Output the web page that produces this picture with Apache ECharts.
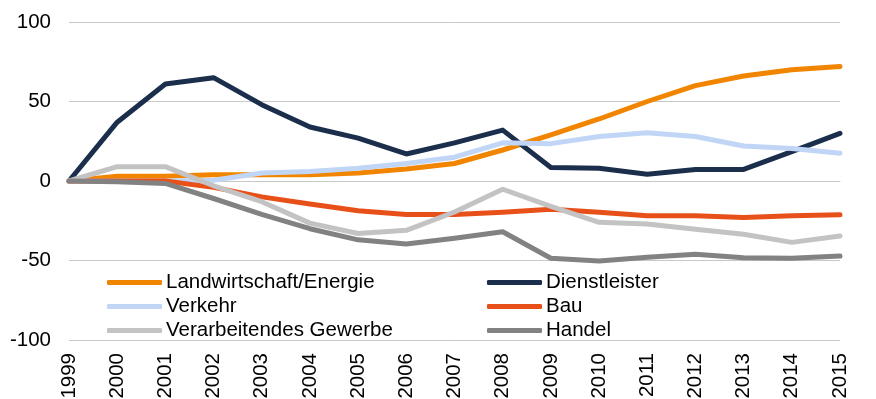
<!DOCTYPE html>
<html>
<head>
<meta charset="utf-8">
<script src="https://cdn.jsdelivr.net/npm/echarts@6/dist/echarts.min.js"></script>
<style>
  html, body { margin: 0; padding: 0; background: #fff; }
  #chart { width: 876px; height: 399px; }
</style>
</head>
<body>
<div id="chart"></div>
<script>
// Jahre (Kategorien der x-Achse)
const years = ['1999','2000','2001','2002','2003','2004','2005','2006','2007','2008',
               '2009','2010','2011','2012','2013','2014','2015'];

// Veränderung je Wirtschaftsbereich
const landwirtschaftEnergie = [0, 3, 3, 4, 4, 4, 5, 7.5, 11, 19.5, 29, 39, 50, 60, 66, 70, 72];
const dienstleister         = [0, 37, 61, 65, 48, 34, 27, 17, 24, 32, 8.5, 8, 4.2, 7.3, 7.3, 18.5, 30];
const verkehr               = [0, 0, 0, 0.5, 5, 6, 8, 11, 15, 24, 23.5, 28, 30.4, 28, 22, 20.5, 17.5];
const bau                   = [0, 0, 0, -4, -10, -14.5, -18.7, -21, -21, -19.7, -17.8, -19.7, -21.8, -21.8, -22.9, -21.8, -21.2];
const verarbeitendesGewerbe = [0, 9, 9, -3, -13, -26.5, -33, -31, -19.5, -5.2, -16, -26, -27, -30.4, -33.5, -38.6, -34.6];
const handel                = [0, -0.5, -1.5, -11, -21, -30, -37, -39.6, -36, -31.9, -48.6, -50.3, -48, -46, -48.2, -48.6, -47.2];

// Achsenbereich der y-Achse
const yMin = -100, yMax = 100, yStep = 50;

const font = 'Liberation Sans, Arial, sans-serif';
const fontSize = 20.5;

const seriesDefs = [
  { name: 'Landwirtschaft/Energie', data: landwirtschaftEnergie, color: '#F28500' },
  { name: 'Dienstleister',          data: dienstleister,         color: '#1B2F4D' },
  { name: 'Verkehr',                data: verkehr,               color: '#C1D6F6' },
  { name: 'Bau',                    data: bau,                   color: '#E8501A' },
  { name: 'Verarbeitendes Gewerbe', data: verarbeitendesGewerbe, color: '#C3C3C3' },
  { name: 'Handel',                 data: handel,                color: '#828282' }
];

const chart = echarts.init(document.getElementById('chart'), null, { renderer: 'canvas' });

const legendCommon = {
  orient: 'vertical',
  icon: 'roundRect',
  itemWidth: 55,
  itemHeight: 5,
  itemGap: 3,
  padding: 0,
  textStyle: { fontFamily: font, fontSize: fontSize, lineHeight: 20, color: '#000', padding: [0, 0, 0, -1] },
  selectedMode: false
};

chart.setOption({
  animation: false,
  backgroundColor: '#fff',
  grid: { left: 69, right: 36, top: 22, bottom: 59, containLabel: false, outerBoundsMode: 'none' },
  legend: [
    Object.assign({ left: 107, top: 272, data: ['Landwirtschaft/Energie', 'Verkehr', 'Verarbeitendes Gewerbe'] }, legendCommon),
    Object.assign({ left: 487, top: 272, data: ['Dienstleister', 'Bau', 'Handel'] }, legendCommon)
  ],
  xAxis: {
    type: 'category',
    data: years,
    boundaryGap: false,
    axisLine: { show: true, lineStyle: { color: '#C8C8C8', width: 1 } },
    axisTick: { show: false },
    axisLabel: {
      rotate: 90,
      fontFamily: font,
      fontSize: fontSize,
      color: '#000',
      margin: 13,
      interval: 0
    },
    splitLine: { show: false }
  },
  yAxis: {
    type: 'value',
    min: yMin,
    max: yMax,
    interval: yStep,
    axisLine: { show: false },
    axisTick: { show: false },
    axisLabel: { fontFamily: font, fontSize: fontSize, color: '#000', margin: 18 },
    splitLine: { show: true, lineStyle: { color: '#C8C8C8', width: 1 } }
  },
  series: seriesDefs.map(s => ({
    name: s.name,
    type: 'line',
    data: s.data,
    showSymbol: false,
    symbol: 'none',
    smooth: false,
    itemStyle: { color: s.color },
    lineStyle: { color: s.color, width: 5, cap: 'round', join: 'round' }
  }))
});
</script>
</body>
</html>
